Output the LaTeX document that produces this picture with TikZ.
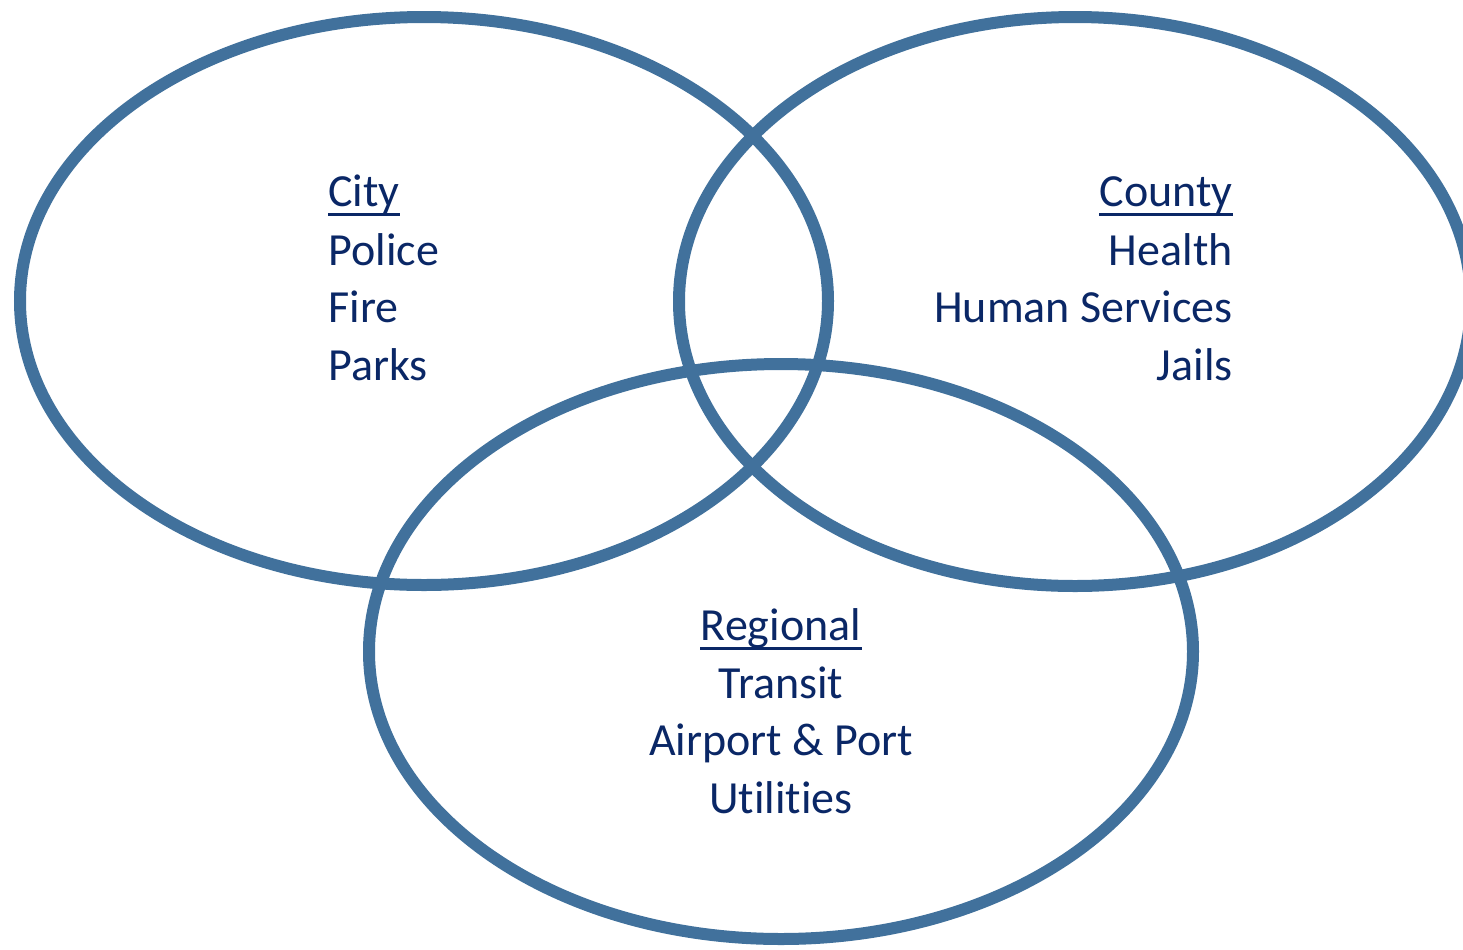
\documentclass[tikz,border=0pt]{standalone}
\usepackage{fontspec}
\setmainfont[Ligatures={NoCommon}]{Carlito}
\definecolor{ringc}{HTML}{41719C}
\definecolor{txtc}{HTML}{0A2766}
\begin{document}
\begin{tikzpicture}[x=0.5pt,y=-0.5pt,
  ring/.style={draw=ringc,line width=6pt},
  lbl/.style={text=txtc,inner sep=0pt,font=\fontsize{23}{28.75}\selectfont},
  uline/.style={draw=txtc,line width=1.8pt}]
\useasboundingbox (0,0) rectangle (1463,949);
\begin{scope}
\clip (0,0) rectangle (1463,949);
\draw[ring] (424,301) ellipse [x radius=404, y radius=284];
\draw[ring] (1075,301.5) ellipse [x radius=396, y radius=284.5];
\draw[ring] (781,651.5) ellipse [x radius=412, y radius=287.5];
\end{scope}
% City
\node[lbl,anchor=base west] (city) at (328,206) {City};
\draw[uline] ([yshift=-4.3pt]city.base west) -- ([yshift=-4.3pt]city.base east);
\node[lbl,anchor=base west] (police) at (328,265) {Police};
\node[lbl,anchor=base west] (fire) at (328,322) {Fire};
\node[lbl,anchor=base west] (parks) at (328,380) {Parks};
% County
\node[lbl,anchor=base east] (county) at (1233,206) {County};
\draw[uline] ([yshift=-4.3pt]county.base west) -- ([yshift=-4.3pt]county.base east);
\node[lbl,anchor=base east] (health) at (1233,265) {Health};
\node[lbl,anchor=base east] (human) at (1233,322) {Human Services};
\node[lbl,anchor=base east] (jails) at (1233,380) {Jails};
% Regional
\node[lbl,anchor=base] (regional) at (781,640) {Regional};
\draw[uline] ([yshift=-4.3pt]regional.base west) -- ([yshift=-4.3pt]regional.base east);
\node[lbl,anchor=base] (transit) at (781,698) {Transit};
\node[lbl,anchor=base] (airport) at (781,755) {Airport \& Port};
\node[lbl,anchor=base] (util) at (781,813) {Utilities};
\end{tikzpicture}
\end{document}
